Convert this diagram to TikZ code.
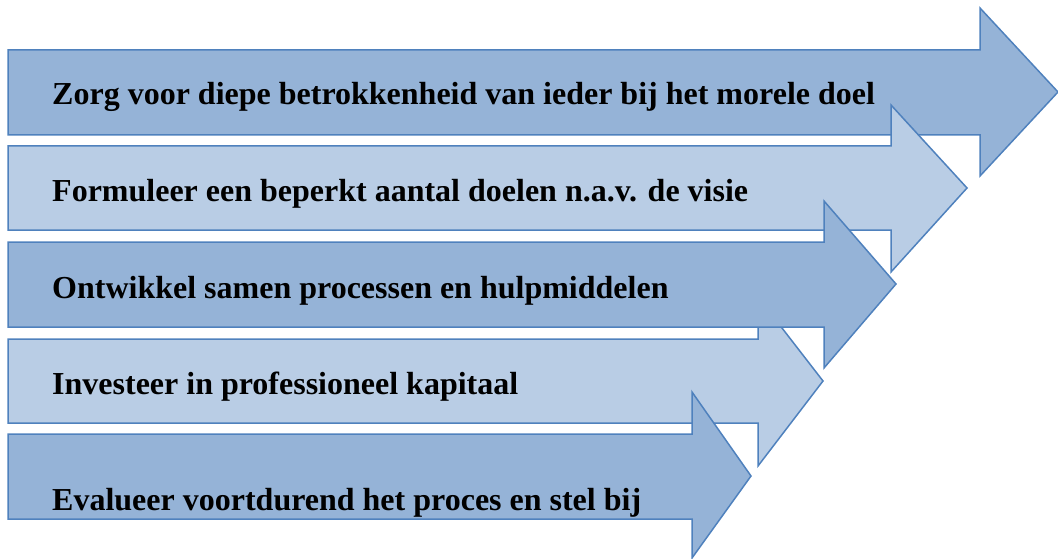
\documentclass[tikz,border=0pt]{standalone}
\usepackage{fontspec}
\setmainfont{Liberation Serif}
\definecolor{arrowdark}{HTML}{95B3D7}
\definecolor{arrowlight}{HTML}{B9CDE5}
\definecolor{arrowline}{HTML}{4F81BD}
\tikzset{
  darkarrow/.style={draw=arrowline, fill=arrowdark, line width=1.5pt, line join=miter},
  lightarrow/.style={draw=arrowline, fill=arrowlight, line width=1.5pt, line join=miter},
  steptext/.style={anchor=base west, inner sep=0pt, font=\fontsize{32}{38}\selectfont\bfseries}
}
\begin{document}
\begin{tikzpicture}[x=1pt,y=-1pt]
\useasboundingbox (0,0) rectangle (1058,559);
\draw[darkarrow] (8,50) -- (980,50) -- (980,8) -- (1058,92) -- (980,176) -- (980,135) -- (8,135) -- cycle;
\draw[lightarrow] (8,146) -- (891,146) -- (891,105) -- (967,188) -- (891,272) -- (891,230) -- (8,230) -- cycle;
\draw[lightarrow] (8,339) -- (758,339) -- (758,297) -- (823,381) -- (758,466) -- (758,423) -- (8,423) -- cycle;
\draw[darkarrow] (8,242) -- (824,242) -- (824,201) -- (896,284) -- (824,368) -- (824,327) -- (8,327) -- cycle;
\draw[darkarrow] (8,434) -- (692,434) -- (692,392) -- (751,476) -- (692,558) -- (692,519) -- (8,519) -- cycle;
\node[steptext] (doel) at (52,105) {Zorg voor diepe betrokkenheid van ieder bij het morele doel};
\node[steptext] (visie) at (52,201) {Formuleer een beperkt aantal doelen n.a.v. de visie};
\node[steptext] (samen) at (52,298) {Ontwikkel samen processen en hulpmiddelen};
\node[steptext] (kapitaal) at (52,394) {Investeer in professioneel kapitaal};
\node[steptext] (evalueer) at (52,510) {Evalueer voortdurend het proces en stel bij};
\end{tikzpicture}
\end{document}
